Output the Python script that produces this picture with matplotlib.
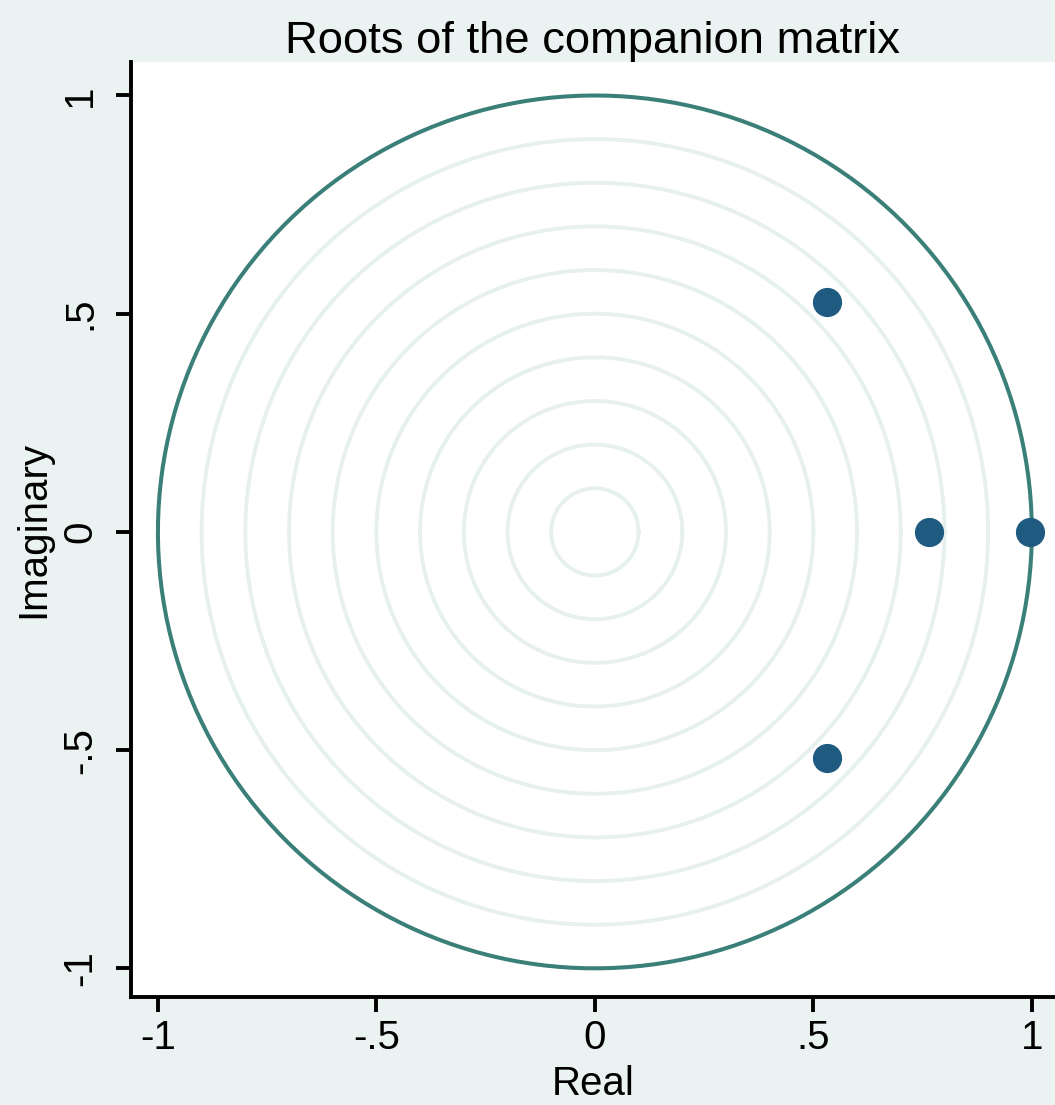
import numpy as np
import matplotlib.pyplot as plt

# roots of the companion matrix (real, imaginary)
re_part = [0.532, 0.532, 0.764, 0.995]
im_part = [0.526, -0.517, 0.0, 0.0]

grid_radii = [0.1, 0.2, 0.3, 0.4, 0.5, 0.6, 0.7, 0.8, 0.9]
ticks = [-1, -0.5, 0, 0.5, 1]
ticklabels = ["-1", "-.5", "0", ".5", "1"]

bg = "#EAF3F2"
plt.rcParams['font.family'] = ['Liberation Sans', 'DejaVu Sans']

fig = plt.figure(figsize=(10.55, 11.05), dpi=100)
fig.patch.set_facecolor(bg)
ax = fig.add_axes([0.124, 0.098, 0.876, 0.846])
ax.set_facecolor("white")

t = np.linspace(0, 2 * np.pi, 400)
for r in grid_radii:
    ax.plot(r * np.cos(t), r * np.sin(t), color="#E6F1EF", lw=2.8, zorder=1)
ax.plot(np.cos(t), np.sin(t), color="#3A7F78", lw=2.9, zorder=2)

ax.plot(re_part, im_part, 'o', color="#1F5A80", markersize=20, zorder=3)

ax.set_xlim(-1.062, 1.053)
ax.set_ylim(-1.065, 1.077)

ax.set_xticks(ticks)
ax.set_xticklabels(ticklabels)
ax.set_yticks(ticks)
ax.set_yticklabels(ticklabels, rotation=90, va="center")

for s in ["top", "right"]:
    ax.spines[s].set_visible(False)
for s in ["left", "bottom"]:
    ax.spines[s].set_linewidth(2.8)

ax.tick_params(axis="both", length=11, width=2.8, labelsize=29)
ax.tick_params(axis="x", pad=5)
ax.tick_params(axis="y", pad=12)

ax.set_title("Roots of the companion matrix", fontsize=32.7, pad=6)
ax.set_xlabel("Real", fontsize=29, labelpad=6)
ax.set_ylabel("Imaginary", fontsize=29, labelpad=6)

fig.savefig("out.png", dpi=100, facecolor=bg)
